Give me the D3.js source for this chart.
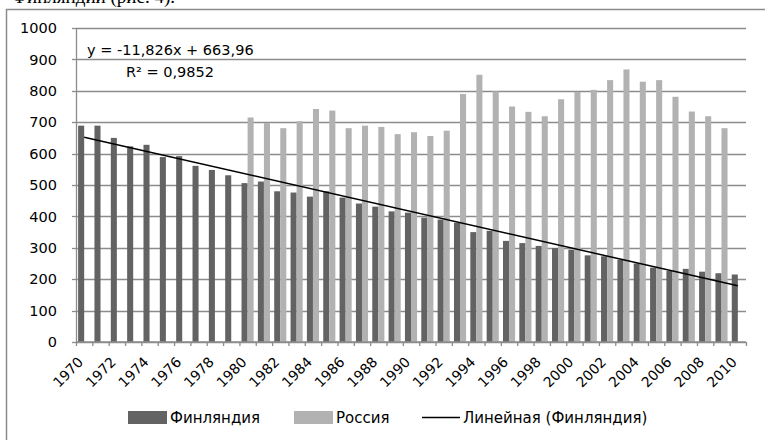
<!DOCTYPE html>
<html>
<head>
<meta charset="utf-8">
<script src="https://cdn.jsdelivr.net/npm/d3@7"></script>
<style>
  body { margin: 0; background: #fff; }
  svg { display: block; font-family: "DejaVu Sans", sans-serif; }
</style>
</head>
<body>
<svg id="chart" width="765" height="440"></svg>
<script>
// years on the x axis
var years = d3.range(1970, 2011);
// Финляндия, 1970-2010
var finland = [689, 689, 650, 623, 628, 589, 592, 561, 548, 531,
               506, 511, 480, 476, 463, 480, 460, 441, 431, 416,
               412, 396, 390, 380, 350, 354, 322, 315, 306, 299,
               294, 276, 273, 262, 250, 237, 226, 233, 224, 219, 215];
// Россия, no data before 1980 and for 2010
var russia = [null, null, null, null, null, null, null, null, null, null,
              715, 697, 681, 703, 742, 737, 681, 689, 685, 662,
              668, 656, 673, 790, 851, 798, 750, 733, 719, 773,
              796, 803, 834, 868, 829, 834, 781, 734, 719, 681, null];
var yTicks = [0, 100, 200, 300, 400, 500, 600, 700, 800, 900, 1000];
var xLabels = years.filter(function(y){ return (y - 1970) % 2 == 0; });
// linear trend for Finland as written on the chart
var trendSlope = -11.826, trendIntercept = 663.96;
var trendText = "y = -11,826x + 663,96";
var r2Text = "R² = 0,9852";

var svg = d3.select("#chart");
var margin = {left: 76, right: 19, top: 28, bottom: 98};
var width = 765, height = 440;

// text of the page above the chart, cut off by the crop
svg.append("text")
    .attr("x", 175).attr("y", 3)
    .attr("text-anchor", "end")
    .style("font-family", "'Liberation Serif', serif")
    .style("font-size", "19px")
    .text("Финляндии (рис. 4).");

// chart frame
svg.append("rect")
    .attr("x", 6.5).attr("y", 9.5)
    .attr("width", 800).attr("height", 500)
    .attr("fill", "none")
    .attr("stroke", "#8c8c8c")
    .attr("stroke-width", 1.5);

var x = d3.scaleBand()
    .domain(years)
    .range([margin.left, width - margin.right])
    .padding(0);

var inner = d3.scaleBand()
    .domain(["fin", "rus"])
    .range([0, x.bandwidth()])
    .paddingInner(0)
    .paddingOuter(0.35);

var y = d3.scaleLinear()
    .domain([0, 1000])
    .range([height - margin.bottom, margin.top]);

// gridlines
svg.append("g")
    .selectAll("line")
    .data(yTicks)
    .enter().append("line")
    .attr("x1", margin.left).attr("x2", width - margin.right)
    .attr("y1", function(d){ return Math.round(y(d)) + 0.5; })
    .attr("y2", function(d){ return Math.round(y(d)) + 0.5; })
    .attr("stroke", "#8c8c8c")
    .attr("stroke-width", 1.3);

// y labels
svg.append("g")
    .selectAll("text")
    .data(yTicks)
    .enter().append("text")
    .attr("x", 57)
    .attr("y", function(d){ return y(d); })
    .attr("dy", "0.36em")
    .attr("text-anchor", "end")
    .style("font-size", "14.5px")
    .attr("fill", "#000")
    .text(function(d){ return d; });

// bars
var bars = svg.append("g");
bars.selectAll("rect.fin")
    .data(finland)
    .enter().append("rect")
    .attr("class", "fin")
    .attr("x", function(d, i){ return x(years[i]) + inner("fin"); })
    .attr("y", function(d){ return y(d); })
    .attr("width", inner.bandwidth())
    .attr("height", function(d){ return y(0) - y(d); })
    .attr("fill", "#636363");

bars.selectAll("rect.rus")
    .data(russia.map(function(v, i){ return {year: years[i], v: v}; })
                .filter(function(d){ return d.v != null; }))
    .enter().append("rect")
    .attr("class", "rus")
    .attr("x", function(d){ return x(d.year) + inner("rus"); })
    .attr("y", function(d){ return y(d.v); })
    .attr("width", inner.bandwidth())
    .attr("height", function(d){ return y(0) - y(d.v); })
    .attr("fill", "#b2b2b2");

// axes lines and ticks
var axisG = svg.append("g").attr("stroke", "#8c8c8c").attr("stroke-width", 1.3);
axisG.append("line")
    .attr("x1", margin.left).attr("x2", width - margin.right)
    .attr("y1", y(0)).attr("y2", y(0));
axisG.append("line")
    .attr("x1", margin.left + 0.5).attr("x2", margin.left + 0.5)
    .attr("y1", y(1000)).attr("y2", y(0));
axisG.selectAll("line.tick")
    .data(years.concat([2011]))
    .enter().append("line")
    .attr("class", "tick")
    .attr("x1", function(d, i){ return margin.left + i * x.step() + 0.5; })
    .attr("x2", function(d, i){ return margin.left + i * x.step() + 0.5; })
    .attr("y1", y(0)).attr("y2", y(0) + 4);
axisG.selectAll("line.ytick")
    .data(yTicks)
    .enter().append("line")
    .attr("class", "ytick")
    .attr("x1", margin.left - 4).attr("x2", margin.left)
    .attr("y1", function(d){ return Math.round(y(d)) + 0.5; })
    .attr("y2", function(d){ return Math.round(y(d)) + 0.5; });

// x labels, rotated
svg.append("g")
    .selectAll("text")
    .data(xLabels)
    .enter().append("text")
    .attr("transform", function(d){
        return "translate(" + (x(d) + x.bandwidth() / 2) + "," + (y(0) + 21) + ") rotate(-45)";
    })
    .attr("text-anchor", "end")
    .style("font-size", "14px")
    .text(function(d){ return d; });

// trend line
var line = d3.line()
    .x(function(d){ return x(d) + x.bandwidth() / 2; })
    .y(function(d){ return y(trendIntercept + trendSlope * (d - 1969)); });
svg.append("path")
    .datum([years[0], years[years.length - 1]])
    .attr("d", line)
    .attr("fill", "none")
    .attr("stroke", "#000")
    .attr("stroke-width", 1.5);

svg.append("text")
    .attr("x", 87).attr("y", 55)
    .style("font-size", "14.5px")
    .text(trendText);
svg.append("text")
    .attr("x", 126).attr("y", 77)
    .style("font-size", "14.5px")
    .text(r2Text);

// legend
var legend = svg.append("g").style("font-size", "15px");
legend.append("rect").attr("x", 128).attr("y", 411).attr("width", 39).attr("height", 13).attr("fill", "#636363");
legend.append("text").attr("x", 170).attr("y", 423).text("Финляндия");
legend.append("rect").attr("x", 294).attr("y", 411).attr("width", 39).attr("height", 13).attr("fill", "#b2b2b2");
legend.append("text").attr("x", 336).attr("y", 423).text("Россия");
legend.append("line").attr("x1", 422).attr("x2", 460).attr("y1", 417.5).attr("y2", 417.5)
    .attr("stroke", "#000").attr("stroke-width", 1.5);
legend.append("text").attr("x", 463).attr("y", 423).text("Линейная (Финляндия)");
</script>
</body>
</html>
